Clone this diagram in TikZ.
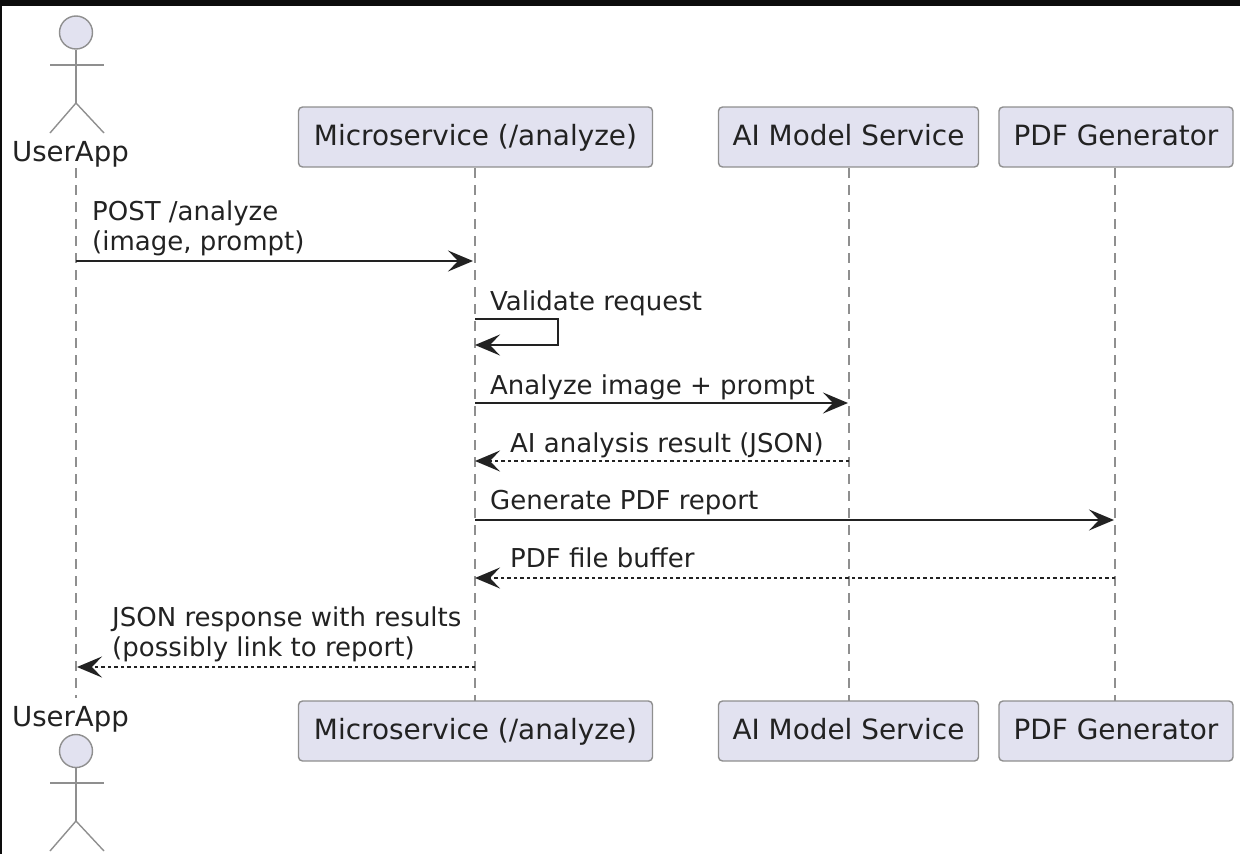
\documentclass[tikz,border=0pt]{standalone}
\usepackage{fontspec}
\setmainfont{DejaVu Sans}
\usepackage{xcolor}
\usetikzlibrary{arrows.meta,positioning}
\definecolor{partfill}{HTML}{E2E2F0}
\definecolor{partline}{HTML}{8F8F8F}
\definecolor{inkline}{HTML}{222222}
\begin{document}
\begin{tikzpicture}[
	x=1pt, y=-1pt,
	every node/.style = {font=\fontsize{26}{29}\selectfont, text=inkline, inner sep=0pt},
	part/.style = {shape=rectangle, rounded corners=4pt, draw=partline, fill=partfill,
		line width=1.4pt, minimum height=60pt, anchor=center, text height=21.5pt, text depth=5.5pt,
		font=\fontsize{27.9}{31}\selectfont},
	actorname/.style = {anchor=base, font=\fontsize{27.6}{31}\selectfont},
	head/.style = {shape=circle, draw=partline, fill=partfill, line width=1.4pt, minimum size=33pt},
	stick/.style = {draw=partline, line width=1.4pt},
	lifeline/.style = {draw=partline, line width=1.2pt, dash pattern=on 10pt off 7pt},
	msg/.style = {draw=inkline, line width=1.8pt, -{Stealth[length=25pt,width=21pt,inset=10pt]}},
	reply/.style = {msg, dash pattern=on 3.5pt off 3pt},
	label/.style = {align=left, anchor=base west}
]
\fill[black!95] (0,0) rectangle (1240,6);
\fill[black!95] (0,0) rectangle (2,854);
\useasboundingbox (0,0) rectangle (1240,854);

% participants
\node[part, minimum width=354pt] (msTop) at (475.5,137) {Microservice (/analyze)};
\node[part, minimum width=260pt] (aiTop) at (848.5,137) {AI Model Service};
\node[part, minimum width=234pt] (pdfTop) at (1116,137) {PDF Generator};
\node[part, minimum width=354pt] (msBot) at (475.5,731) {Microservice (/analyze)};
\node[part, minimum width=260pt] (aiBot) at (848.5,731) {AI Model Service};
\node[part, minimum width=234pt] (pdfBot) at (1116,731) {PDF Generator};
\node[actorname] (userTop) at (70.5,161) {UserApp};
\node[actorname] (userBot) at (70.5,726) {UserApp};

% actors
\node[head] (headTop) at (76,32.5) {};
\coordinate (hipTop) at (76,103);
\draw[stick] (headTop) -- (hipTop);
\draw[stick] (50,65) -- (104,65);
\draw[stick] (50,133) -- (hipTop) -- (104,133);
\node[head] (headBot) at (76,751) {};
\coordinate (hipBot) at (76,821);
\draw[stick] (headBot) -- (hipBot);
\draw[stick] (50,783) -- (104,783);
\draw[stick] (50,851) -- (hipBot) -- (104,851);

% lifelines
\coordinate (userA) at (76,168);
\coordinate (userB) at (76,698);
\coordinate (msA) at (475,168);
\coordinate (msB) at (475,701);
\coordinate (aiA) at (849,168);
\coordinate (aiB) at (849,701);
\coordinate (pdfA) at (1115,168);
\coordinate (pdfB) at (1115,701);
\draw[lifeline] (userA) -- (userB);
\draw[lifeline] (msA) -- (msB);
\draw[lifeline] (aiA) -- (aiB);
\draw[lifeline] (pdfA) -- (pdfB);

% messages
\coordinate (m1a) at (76,261);
\coordinate (m1b) at (473,261);
\draw[msg] (m1a) -- (m1b);
\node[label] (t1a) at (92,220) {POST /analyze};
\node[label] (t1b) at (92,250) {(image, prompt)};

\coordinate (m2a) at (475,319);
\coordinate (m2b) at (558,319);
\coordinate (m2c) at (558,345);
\coordinate (m2d) at (475,345);
\draw[msg] (m2a) -- (m2b) -- (m2c) -- (m2d);
\node[label] (t2) at (490,310) {Validate request};

\coordinate (m3a) at (475,403);
\coordinate (m3b) at (848,403);
\draw[msg] (m3a) -- (m3b);
\node[label] (t3) at (490,394) {Analyze image + prompt};

\coordinate (m4a) at (849,461);
\coordinate (m4b) at (475,461);
\draw[reply] (m4a) -- (m4b);
\node[label] (t4) at (510,452) {AI analysis result (JSON)};

\coordinate (m5a) at (475,520);
\coordinate (m5b) at (1114,520);
\draw[msg] (m5a) -- (m5b);
\node[label] (t5) at (490,509) {Generate PDF report};

\coordinate (m6a) at (1115,578);
\coordinate (m6b) at (475,578);
\draw[reply] (m6a) -- (m6b);
\node[label] (t6) at (510,567) {PDF file buffer};

\coordinate (m7a) at (475,667);
\coordinate (m7b) at (77,667);
\draw[reply] (m7a) -- (m7b);
\node[label] (t7a) at (112,626) {JSON response with results};
\node[label] (t7b) at (112,656) {(possibly link to report)};
\end{tikzpicture}
\end{document}
